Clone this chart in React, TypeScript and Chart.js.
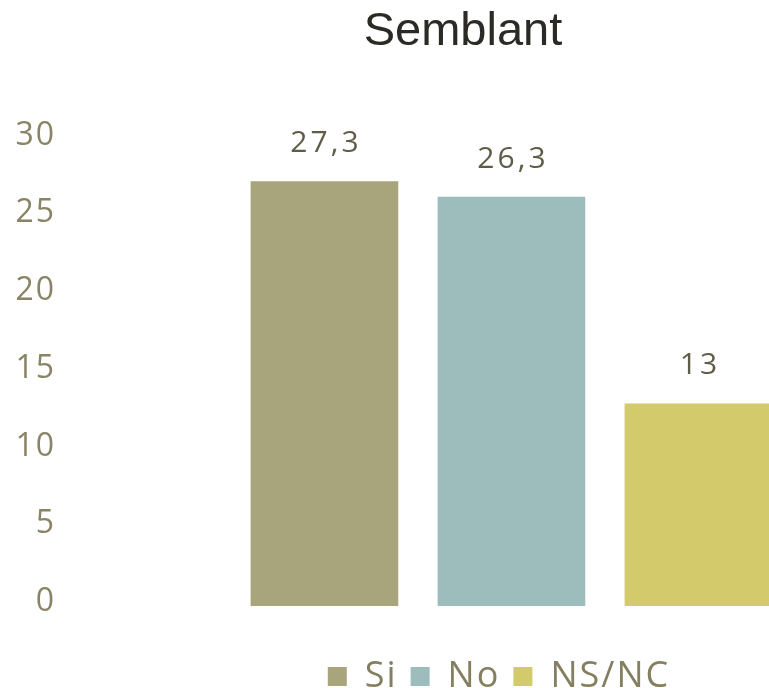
import React, { useEffect, useRef } from 'react';
import { Chart, registerables } from 'chart.js';

Chart.register(...registerables);

const TITLE = 'Semblant';
const categories = ['Si', 'No', 'NS/NC'];
const values = [27.3, 26.3, 13];
const barColors = ['#A8A57C', '#9DBDBC', '#D2CA6B'];
const yMin = 0;
const yMax = 30;
const yStep = 5;

const LETTER_SPACING = '2px';

const spacingPlugin = {
  id: 'letterSpacing',
  beforeUpdate(chart: any) {
    chart.ctx.letterSpacing = LETTER_SPACING;
  },
  beforeLayout(chart: any) {
    chart.ctx.letterSpacing = LETTER_SPACING;
  },
  beforeDraw(chart: any) {
    chart.ctx.letterSpacing = LETTER_SPACING;
  },
};

const titlePlugin = {
  id: 'plainTitle',
  afterDraw(chart: any) {
    const { ctx, width } = chart;
    ctx.save();
    ctx.letterSpacing = '0px';
    ctx.font = '47px "Liberation Sans", Arial, sans-serif';
    ctx.fillStyle = '#2B2A25';
    ctx.textAlign = 'center';
    ctx.textBaseline = 'alphabetic';
    ctx.fillText(TITLE, width / 2, 45);
    ctx.restore();
  },
};

const valueLabelPlugin = {
  id: 'valueLabels',
  afterDatasetsDraw(chart: any) {
    const { ctx } = chart;
    ctx.save();
    ctx.letterSpacing = '3px';
    ctx.font = '30px "Open Sans", sans-serif';
    ctx.fillStyle = '#5F5C48';
    ctx.textAlign = 'center';
    ctx.textBaseline = 'middle';
    chart.data.datasets.forEach((ds: any, i: number) => {
      const meta = chart.getDatasetMeta(i);
      meta.data.forEach((el: any, j: number) => {
        const v = ds.data[j].y;
        ctx.fillText(String(v).replace('.', ','), el.x + 1.5, el.y - 38);
      });
    });
    ctx.restore();
  },
};

export default function App() {
  const canvasRef = useRef<HTMLCanvasElement | null>(null);

  useEffect(() => {
    if (!canvasRef.current) return;
    const chart = new Chart(canvasRef.current, {
      type: 'bar',
      data: {
        datasets: categories.map((name, i) => ({
          label: name,
          data: [{ x: i + 1, y: values[i] }],
          backgroundColor: barColors[i],
          borderWidth: 0,
          barThickness: 147,
          grouped: false,
        })),
      },
      options: {
        animation: false,
        responsive: true,
        maintainAspectRatio: false,
        layout: { padding: { left: 0, right: 0, top: 139.5, bottom: -16.5 } },
        scales: {
          x: {
            type: 'linear',
            min: -0.35,
            max: 4.217,
            offset: false,
            display: true,
            grid: { display: false, drawTicks: false },
            border: { display: false },
            ticks: { display: false },
            afterFit: (s: any) => {
              s.height = 39.5;
            },
          },
          y: {
            min: yMin,
            max: yMax,
            ticks: {
              stepSize: yStep,
              color: '#8A8466',
              font: { family: '"Open Sans", sans-serif', size: 32 },
              padding: 16,
              labelOffset: -4,
            },
            grid: { display: false, drawTicks: false },
            border: { display: false },
            afterFit: (s: any) => {
              s.width = 72;
            },
          },
        },
        plugins: {
          title: { display: false },
          legend: {
            position: 'bottom',
            fullSize: false,
            labels: {
              boxWidth: 19,
              boxHeight: 19,
              padding: 13,
              color: '#857F62',
              font: { family: '"Open Sans", sans-serif', size: 36 },
            },
          },
          tooltip: { enabled: false },
        },
      } as any,
      plugins: [spacingPlugin, valueLabelPlugin, titlePlugin],
    });
    return () => chart.destroy();
  }, []);

  return (
    <div style={{ position: 'fixed', left: 0, top: 0, width: '100vw', height: '100vh', overflow: 'hidden' }}>
      <div style={{ position: 'relative', width: 926, height: 688 }}>
        <canvas ref={canvasRef} />
      </div>
    </div>
  );
}
